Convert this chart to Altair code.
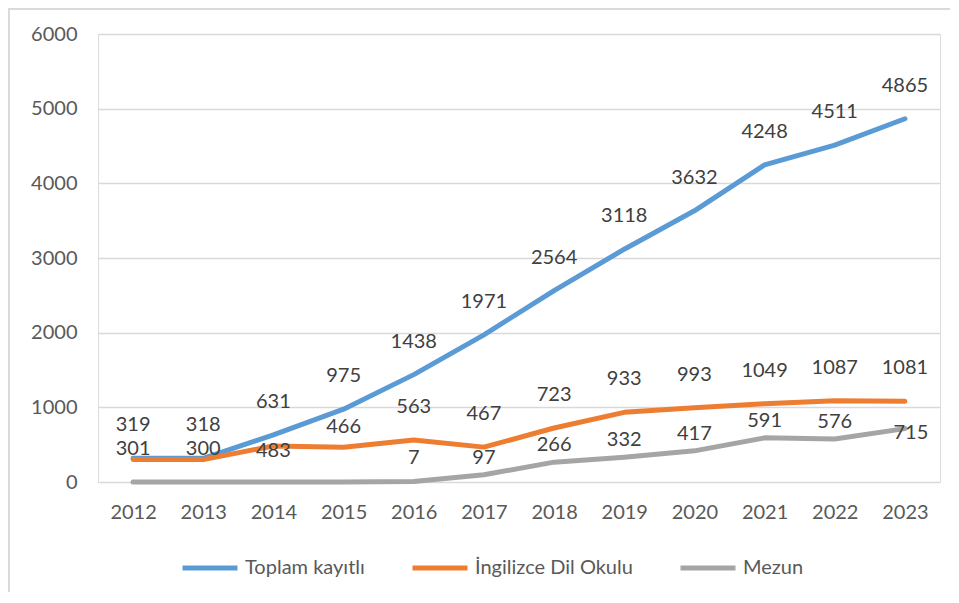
import altair as alt
import pandas as pd

years = ["2012", "2013", "2014", "2015", "2016", "2017",
         "2018", "2019", "2020", "2021", "2022", "2023"]
toplam = [319, 318, 631, 975, 1438, 1971, 2564, 3118, 3632, 4248, 4511, 4865]
ingilizce = [301, 300, 483, 466, 563, 467, 723, 933, 993, 1049, 1087, 1081]
mezun = [0, 0, 0, 0, 7, 97, 266, 332, 417, 591, 576, 715]

series_names = ["Toplam kayıtlı", "İngilizce Dil Okulu", "Mezun"]
series_values = [toplam, ingilizce, mezun]
colors = ["#5B9BD5", "#ED7D31", "#A5A5A5"]
y_ticks = [0, 1000, 2000, 3000, 4000, 5000, 6000]

FONT = "Lato"

# label placement (style): default vertical offset per series, plus a few nudges
default_dy = {"Toplam kayıtlı": -33, "İngilizce Dil Okulu": -33, "Mezun": -17}
nudges = {
    ("İngilizce Dil Okulu", "2012"): (0, -11),
    ("İngilizce Dil Okulu", "2013"): (0, -11),
    ("İngilizce Dil Okulu", "2014"): (0, 5),
    ("İngilizce Dil Okulu", "2015"): (0, -20),
    ("Mezun", "2016"): (0, -23),
    ("Mezun", "2023"): (6, 4),
}

rows = []
for name, vals in zip(series_names, series_values):
    for yr, v in zip(years, vals):
        dx, dy = nudges.get((name, yr), (0, default_dy[name]))
        rows.append({"Yıl": yr, "Seri": name, "Değer": v, "dx": dx, "dy": dy})
df = pd.DataFrame(rows)

x_enc = alt.X("Yıl:O", sort=years, scale=alt.Scale(padding=0.5),
              axis=alt.Axis(title=None, labelAngle=0, ticks=False, domain=False,
                            grid=False, labelFont=FONT, labelFontSize=20,
                            labelColor="#595959", labelPadding=20))
y_enc = alt.Y("Değer:Q", scale=alt.Scale(domain=[0, 6000], nice=False),
              axis=alt.Axis(title=None, values=y_ticks, format="d", ticks=False,
                            domain=False, labelFont=FONT, labelFontSize=20,
                            labelColor="#595959", labelPadding=21,
                            gridColor="#D9D9D9", gridWidth=1.5))

color_enc = alt.Color("Seri:N",
                      scale=alt.Scale(domain=series_names, range=colors),
                      legend=alt.Legend(title=None, orient="none", direction="horizontal",
                                        legendX=82, legendY=504, padding=0,
                                        symbolType="stroke", symbolSize=3025,
                                        symbolStrokeWidth=5, labelFont=FONT,
                                        labelFontSize=20, labelColor="#595959",
                                        labelOffset=5, columnPadding=37))

base = alt.Chart(df)

lines = base.mark_line(strokeWidth=5, strokeCap="round", strokeJoin="round").encode(
    x=x_enc, y=y_enc, color=color_enc
)

layers = [lines]
groups = df[df["Değer"] > 0][["dx", "dy"]].drop_duplicates().values.tolist()
for dx, dy in groups:
    t = base.transform_filter(
        (alt.datum["Değer"] > 0) & (alt.datum.dx == dx) & (alt.datum.dy == dy)
    ).mark_text(font=FONT, fontSize=20, color="#404040", dx=dx, dy=dy,
                align="center", baseline="middle").encode(
        x=alt.X("Yıl:O", sort=years), y="Değer:Q", text="Değer:Q"
    )
    layers.append(t)

# light chart frame (left and top edges)
frame_left = alt.Chart(df).mark_rule(color="#D9D9D9", strokeWidth=1.5).encode(
    x=alt.value(-89.5), y=alt.value(-26), y2=alt.value(558))
frame_top = alt.Chart(df).mark_rule(color="#D9D9D9", strokeWidth=1.5).encode(
    x=alt.value(-89.5), x2=alt.value(860), y=alt.value(-25.5))
layers += [frame_left, frame_top]

chart = alt.layer(*layers).properties(
    width=842, height=448,
    autosize=alt.AutoSizeParams(type="none"),
    padding={"left": 90, "top": 26, "right": 10, "bottom": 110},
).configure_view(stroke=None).configure(font=FONT)

chart.save("out.html", embed_options={"renderer": "svg", "actions": False})
